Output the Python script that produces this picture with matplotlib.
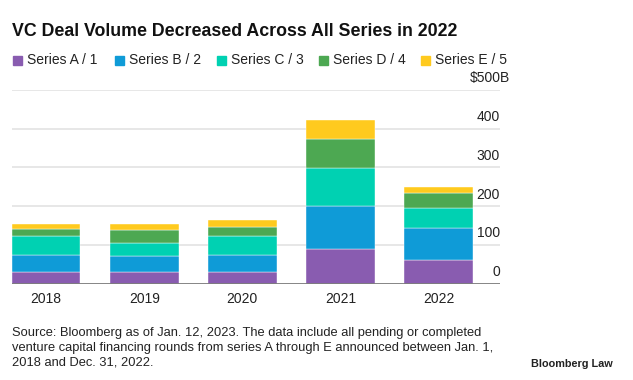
import matplotlib
matplotlib.use("Agg")
import matplotlib.pyplot as plt
import numpy as np

# data ($B)
years = ["2018", "2019", "2020", "2021", "2022"]
series_names = ["Series A / 1", "Series B / 2", "Series C / 3", "Series D / 4", "Series E / 5"]
series_a = [31, 31, 31, 89, 62]
series_b = [44, 41, 44, 112, 83]
series_c = [48, 33, 48, 97, 51]
series_d = [19, 34, 24, 76, 37]
series_e = [13, 15, 18, 48, 17]
yticks = [0, 100, 200, 300, 400, 500]

colors = ["#895CB0", "#0F9BD7", "#00D1B2", "#4DA852", "#FFCA1E"]
plt.rcParams["font.family"] = ["Liberation Sans", "DejaVu Sans"]

fig = plt.figure(figsize=(6.33, 3.8), dpi=100)
ax = fig.add_axes([11.7 / 633, 1 - 283.7 / 380, (500 - 11.7) / 633, (283.7 - 90) / 380])

x = np.arange(len(years))
bottom = np.zeros(len(years))
for vals, col in zip([series_a, series_b, series_c, series_d, series_e], colors):
    ax.bar(x, vals, width=0.7, bottom=bottom, color=col, edgecolor="white",
           linewidth=0.3, zorder=3)
    bottom += np.array(vals)

ax.set_xlim(-0.35, 4.625)
ax.set_ylim(0, 500)

# gridlines + labels sitting above them on the right
for t in yticks:
    if t > 0:
        ax.axhline(t, color="#e3e3e3", lw=1.2, zorder=1)
    lab = "$500B" if t == yticks[-1] else str(t)
    xr = 1.02 if t == yticks[-1] else 1.0
    ax.text(xr, t + 12, lab, transform=ax.get_yaxis_transform(), ha="right",
            va="bottom", fontsize=10, color="#222222")
ax.axhline(0, color="#7a7a7a", lw=2, zorder=4)

for s in ax.spines.values():
    s.set_visible(False)
ax.set_yticks([])
ax.set_xticks(x)
ax.set_xticklabels(years, fontsize=10, color="#222222")
ax.tick_params(axis="x", length=0, pad=6)

fig.text(12 / 633, 1 - 31 / 380, "VC Deal Volume Decreased Across All Series in 2022",
         fontsize=12.8, fontweight="bold", va="center", color="#111111")

# legend row
for i, (name, col) in enumerate(zip(series_names, colors)):
    xpos = 13 + 102 * i
    fig.patches.append(plt.Rectangle((xpos / 633, 1 - 65 / 380), 9 / 633, 9 / 380,
                                     transform=fig.transFigure, color=col))
    fig.text((xpos + 14) / 633, 1 - 60 / 380, name, fontsize=10, va="center",
             color="#222222")

fig.text(12 / 633, 1 - 327 / 380,
         "Source: Bloomberg as of Jan. 12, 2023. The data include all pending or completed\n"
         "venture capital financing rounds from series A through E announced between Jan. 1,\n"
         "2018 and Dec. 31, 2022.",
         fontsize=9.3, va="top", color="#222222", linespacing=1.28)
fig.text(613 / 633, 1 - 364 / 380, "Bloomberg Law", fontsize=7.8, fontweight="bold",
         ha="right", va="center", color="#222222")

fig.savefig("out.png", dpi=100)
